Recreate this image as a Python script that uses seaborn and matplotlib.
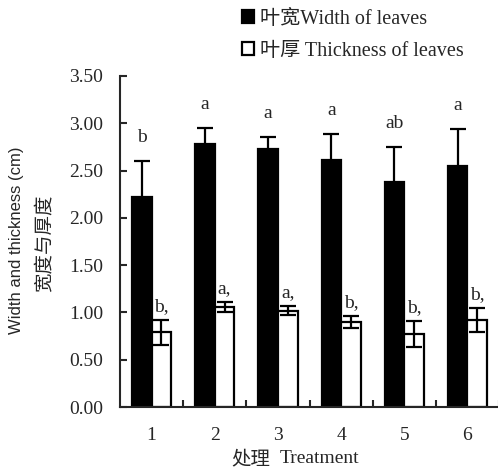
import numpy as np
import pandas as pd
import matplotlib
matplotlib.use('Agg')
import matplotlib.pyplot as plt
import seaborn as sns
from matplotlib.patches import Patch

# 数据
treatments = ['1', '2', '3', '4', '5', '6']
width_mean = [2.22, 2.78, 2.73, 2.61, 2.38, 2.55]
width_err = [0.38, 0.17, 0.12, 0.28, 0.37, 0.39]
thick_mean = [0.79, 1.06, 1.02, 0.90, 0.77, 0.92]
thick_err = [0.13, 0.05, 0.05, 0.06, 0.14, 0.13]
width_sig = ['b', 'a', 'a', 'a', 'ab', 'a']
thick_sig = ['b,', 'a,', 'a,', 'b,', 'b,', 'b,']
series = ['叶宽Width of leaves', '叶厚 Thickness of leaves']

df = pd.DataFrame({
    'Treatment': treatments * 2,
    'Value': width_mean + thick_mean,
    'Trait': [series[0]] * 6 + [series[1]] * 6,
})

sns.set_style('ticks')
plt.rcParams['font.family'] = ['Liberation Serif', 'Noto Sans CJK SC']
plt.rcParams['axes.linewidth'] = 1.5

fig = plt.figure(figsize=(4.98, 4.69), dpi=100)
ax = fig.add_axes([0.241, 0.132, 0.761, 0.706])

sns.barplot(data=df, x='Treatment', y='Value', hue='Trait',
            palette=['black', 'white'], edgecolor='black', linewidth=1.6,
            width=0.62, errorbar=None, legend=False, ax=ax)

# 误差线与显著性字母
for cont, means, errs, sig, off in zip(ax.containers,
                                       [width_mean, thick_mean],
                                       [width_err, thick_err],
                                       [width_sig, thick_sig],
                                       [0.25, 0.14]):
    xs = [b.get_x() + b.get_width() / 2 for b in cont]
    ax.errorbar(xs, means, yerr=errs, fmt='none', ecolor='black',
                elinewidth=1.6, capsize=6, capthick=1.6, zorder=5)
    for x, m, e, s in zip(xs, means, errs, sig):
        ax.text(x, m + e + off, s, ha='center', va='center', fontsize=14)

ax.set_xlim(-0.5, 5.5)
ax.set_ylim(0, 3.5)
ax.set_yticks(np.arange(0, 3.51, 0.5))
ax.set_yticklabels([f'{v:.2f}' for v in np.arange(0, 3.51, 0.5)])
ax.set_xticks(np.arange(0.5, 5.6, 1), minor=True)
ax.tick_params(axis='x', which='major', length=0, labelsize=14, pad=14)
ax.tick_params(axis='x', which='minor', direction='in', length=5, width=1.5)
ax.tick_params(axis='y', direction='in', length=5, width=1.5, labelsize=14, pad=12)
sns.despine(ax=ax, top=True, right=True)
ax.set_xlabel('')
ax.set_ylabel('')

# 坐标轴标题
fig.text(0.543, 0.022, '处理', ha='right', va='center', fontsize=14,
         family='Noto Sans CJK SC')
fig.text(0.562, 0.022, 'Treatment', ha='left', va='center', fontsize=14)
fig.text(0.034, 0.487, 'Width and thickness (cm)', rotation=90,
         ha='center', va='center', fontsize=12, family='Liberation Sans')
fig.text(0.088, 0.482, '宽度与厚度', rotation=90, ha='center', va='center',
         fontsize=14, family='Noto Sans CJK SC')

handles = [Patch(facecolor='black', edgecolor='black', linewidth=1.6),
           Patch(facecolor='white', edgecolor='black', linewidth=1.6)]
fig.legend(handles, series, loc='upper left', bbox_to_anchor=(0.45, 1.018),
           frameon=False, fontsize=14.5, handlelength=0.6, handleheight=0.6,
           handletextpad=0.3, labelspacing=0.65)

fig.savefig('out.png', dpi=100)
